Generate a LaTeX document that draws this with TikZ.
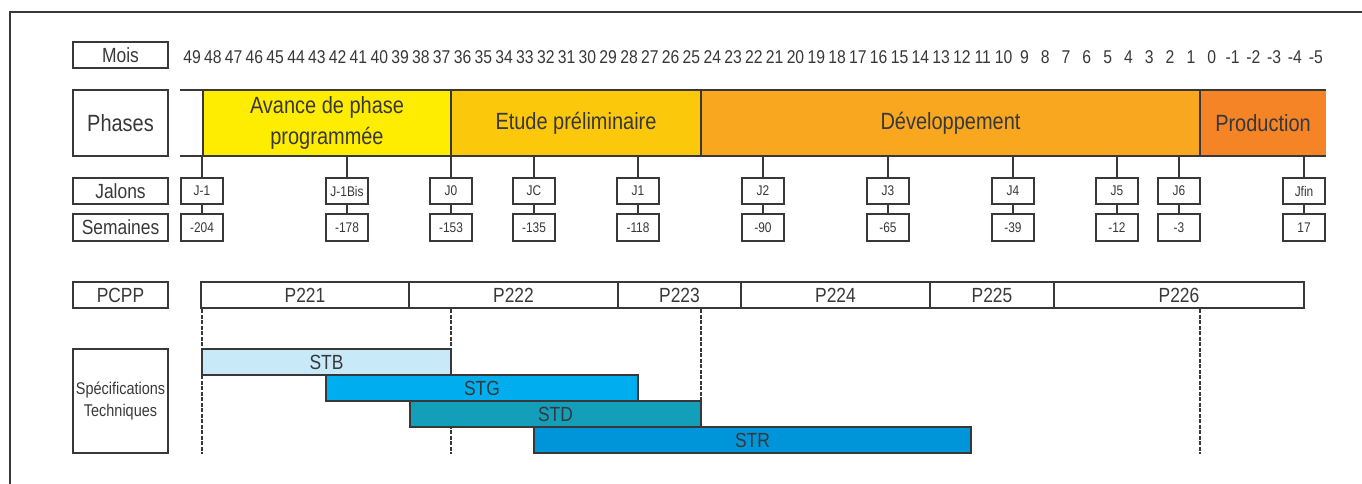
\documentclass[tikz,border=0pt]{standalone}
\usepackage{fontspec}
\setmainfont{Liberation Sans}[FakeStretch=0.85]
\usepackage{xcolor}
\usetikzlibrary{positioning}

\definecolor{trait}{HTML}{38383A}
\definecolor{avance}{HTML}{FFED00}
\definecolor{etude}{HTML}{FCC80B}
\definecolor{devel}{HTML}{F8A71F}
\definecolor{prod}{HTML}{F58426}
\definecolor{stb}{HTML}{C8E9F8}
\definecolor{stg}{HTML}{00AEEF}
\definecolor{std}{HTML}{139EBA}
\definecolor{str}{HTML}{0094D9}

\tikzset{
    titre/.style={draw=trait, line width=2.5pt, text=trait, inner sep=0pt, outer sep=0pt,
        minimum width=95, minimum height=26, font=\fontsize{20.5}{24}\selectfont},
    phase/.style={text=trait, inner sep=0pt, outer sep=0pt, minimum height=66,
        align=center, font=\fontsize{23.5}{31}\selectfont},
    jalon/.style={draw=trait, line width=2.5pt, fill=white, text=trait, inner sep=0pt,
        outer sep=0pt, minimum width=42, minimum height=26, font=\fontsize{14}{16}\selectfont},
    pcpp/.style={draw=trait, line width=2.5pt, text=trait, inner sep=0pt, outer sep=0pt,
        minimum height=26, font=\fontsize{20.5}{24}\selectfont},
    spec/.style={draw=trait, line width=2.5pt, text=trait, inner sep=0pt, outer sep=0pt,
        minimum height=26, font=\fontsize{20.5}{24}\selectfont},
    mois/.style={text=trait, inner sep=0pt, anchor=base, font=\fontsize{18.5}{20}\selectfont},
    guide/.style={draw=trait, line width=1.6pt, dash pattern=on 4pt off 1.5pt}
}

\begin{document}
\begin{tikzpicture}[x=1pt, y=-1pt]
    \useasboundingbox (0,0) rectangle (1362,484);
    % cadre
    \draw[trait, line width=2pt] (10,484) -- (10,12) -- (1362,12);

    % colonne des titres
    \node[titre] (tmois) at (120.5,55) {Mois};
    \node[titre, minimum height=66, font=\fontsize{23.5}{28}\selectfont] (tphases) at (120.5,123) {Phases};
    \node[titre] (tjalons) at (120.5,191) {Jalons};
    \node[titre, minimum height=27] (tsemaines) at (120.5,227.5) {Semaines};
    \node[titre] (tpcpp) at (120.5,295) {PCPP};
    \node[titre, minimum height=104, align=center, font=\fontsize{17}{21.7}\selectfont] (tspec) at (120.5,401) {Spécifications\\Techniques};

    % mois
    \foreach \m [count=\i from 0] in {49,48,...,-5}
        \node[mois] (m\i) at (192+\i*20.81,64) {\m};

    % phases
    \node[phase, fill=avance, minimum width=248] (avance) at (327,123) {Avance de phase\\programmée};
    \node[phase, fill=etude, minimum width=250] (etude) at (576,123) {\raisebox{-2pt}{Etude préliminaire}};
    \node[phase, fill=devel, minimum width=499] (devel) at (950.5,123) {\raisebox{-2pt}{Développement}};
    \node[phase, fill=prod, minimum width=126] (prod) at (1263,123) {\raisebox{-1pt}{Production}};
    \coordinate (bordh) at (180,90);
    \coordinate (bordb) at (180,156);
    \draw[trait, line width=2.5pt] (bordh) -- (prod.north east);
    \draw[trait, line width=2.5pt] (bordb) -- (prod.south east);
    \foreach \p in {avance, etude, devel, prod}
        \draw[trait, line width=2.5pt] (\p.north west) -- (\p.south west);

    % jalons et semaines
    \foreach \x/\nom/\sem [count=\k] in {202/J-1/-204, 347/J-1Bis/-178, 451/J0/-153,
            534/JC/-135, 638/J1/-118, 763/J2/-90, 888/J3/-65, 1013/J4/-39,
            1117/J5/-12, 1179/J6/-3, 1304/Jfin/17} {
        \coordinate (b\k) at (\x,156);
        \node[jalon] (j\k) at (\x,191) {\nom};
        \node[jalon, minimum height=27] (s\k) at (\x,227.5) {\sem};
        \draw[trait, line width=2.5pt] (b\k) -- (j\k.north);
        \draw[trait, line width=2.5pt] (j\k.south) -- (s\k.north);
    }

    % PCPP
    \node[pcpp, minimum width=208] (p221) at (305,295) {P221};
    \node[pcpp, minimum width=209, right=0pt of p221] (p222) {P222};
    \node[pcpp, minimum width=123, right=0pt of p222] (p223) {P223};
    \node[pcpp, minimum width=189, right=0pt of p223] (p224) {P224};
    \node[pcpp, minimum width=124, right=0pt of p224] (p225) {P225};
    \node[pcpp, minimum width=250, right=0pt of p225] (p226) {P226};

    % lignes de repère
    \foreach \x [count=\k] in {202, 451, 701, 1200} {
        \coordinate (gh\k) at (\x,309);
        \coordinate (gb\k) at (\x,454);
        \draw[guide] (gh\k) -- (gb\k);
    }

    % spécifications techniques
    \node[spec, fill=stb, minimum width=249] (stb) at (326.5,362) {STB};
    \node[spec, fill=stg, minimum width=312] (stg) at (482,388) {STG};
    \node[spec, fill=std, minimum width=291] (std) at (555.5,414) {STD};
    \node[spec, fill=str, minimum width=437] (str) at (752.5,440) {STR};
\end{tikzpicture}
\end{document}
